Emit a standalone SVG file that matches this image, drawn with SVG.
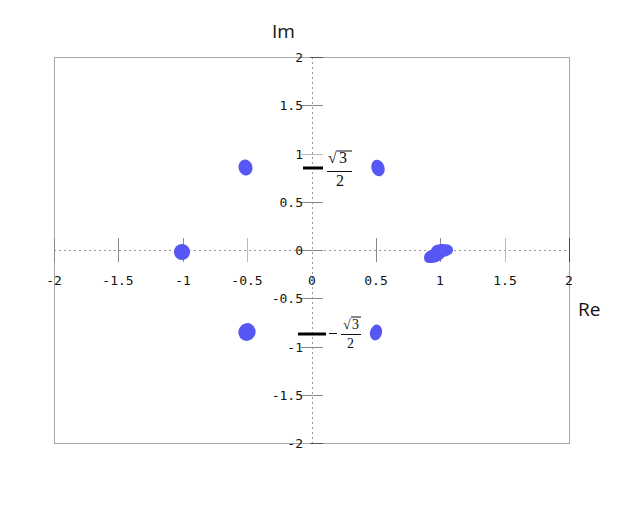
<svg xmlns="http://www.w3.org/2000/svg" width="644" height="526" viewBox="0 0 644 526">
<style>
.frame{fill:none;stroke:#a8a8a8;stroke-width:1}
.axis{stroke:#999;stroke-width:1;stroke-dasharray:2,3}
.tick{stroke:#888;stroke-width:1}
.tl{font-family:"DejaVu Sans Mono",monospace;font-size:13px;fill:#111}
.al{font-family:"Open Sans","DejaVu Sans",sans-serif;font-size:19px;fill:#111}
.fr{font-family:"Liberation Serif",serif;fill:#111}
.dot{fill:#5757f5}
.mark{stroke:#000;stroke-width:3}
</style>
<rect width="644" height="526" fill="#fff"/>
<g id="frame">
<rect class="frame" x="54.5" y="57.5" width="515" height="386"/>
</g>
<g id="axes">
<line class="axis" x1="54" y1="250.5" x2="569" y2="250.5"/>
<line class="axis" x1="312.5" y1="57" x2="312.5" y2="443"/>
</g>
<g id="xticks">
<line class="tick" x1="54.5" y1="238" x2="54.5" y2="262" stroke="#555"/>
<line class="tick" x1="118.5" y1="238" x2="118.5" y2="262"/>
<line class="tick" x1="183.5" y1="238" x2="183.5" y2="262"/>
<line class="tick" x1="247.5" y1="238" x2="247.5" y2="262" style="stroke:#bbb"/>
<line class="tick" x1="376.5" y1="238" x2="376.5" y2="262"/>
<line class="tick" x1="440.5" y1="238" x2="440.5" y2="262"/>
<line class="tick" x1="505.5" y1="238" x2="505.5" y2="262" style="stroke:#bbb"/>
<line class="tick" x1="569.5" y1="238" x2="569.5" y2="262" style="stroke:#444"/>
<g class="tl" text-anchor="middle">
<text x="54" y="285">-2</text>
<text x="118" y="285">-1.5</text>
<text x="183" y="285">-1</text>
<text x="247" y="285">-0.5</text>
<text x="312" y="285">0</text>
<text x="376" y="285">0.5</text>
<text x="440" y="285">1</text>
<text x="505" y="285">1.5</text>
<text x="569" y="285">2</text>
</g>
</g>
<g id="yticks">
<line class="tick" x1="310" y1="57.5" x2="323" y2="57.5" style="stroke:#555"/>
<line class="tick" x1="301" y1="105.5" x2="323" y2="105.5"/>
<line class="tick" x1="301" y1="154.5" x2="323" y2="154.5" style="stroke:#bbb"/>
<line class="tick" x1="301" y1="202.5" x2="323" y2="202.5"/>
<line class="tick" x1="301" y1="250.5" x2="323" y2="250.5"/>
<line class="tick" x1="301" y1="298.5" x2="323" y2="298.5"/>
<line class="tick" x1="301" y1="347.5" x2="323" y2="347.5"/>
<line class="tick" x1="301" y1="395.5" x2="323" y2="395.5"/>
<line class="tick" x1="310" y1="443.5" x2="323" y2="443.5" style="stroke:#555"/>
<g class="tl" text-anchor="end">
<text x="303" y="62">2</text>
<text x="303" y="110">1.5</text>
<text x="303" y="159">1</text>
<text x="303" y="207">0.5</text>
<text x="303" y="255">0</text>
<text x="303" y="303">-0.5</text>
<text x="303" y="352">-1</text>
<text x="303" y="400">-1.5</text>
<text x="303" y="448">-2</text>
</g>
</g>
<g id="axis-labels">
<text class="al" x="272" y="38">Im</text>
<text class="al" x="578" y="316">Re</text>
</g>
<g id="mark-pos">
<line class="mark" x1="303" y1="168" x2="323" y2="168"/>
<text class="fr" x="328" y="163" font-size="16">√</text>
<line x1="337" y1="151" x2="352" y2="151" stroke="#111" stroke-width="1"/>
<text class="fr" x="339" y="163" font-size="16">3</text>
<line x1="327" y1="171.5" x2="352" y2="171.5" stroke="#111" stroke-width="1"/>
<text class="fr" x="336" y="186" font-size="16">2</text>
</g>
<g id="mark-neg">
<line class="mark" x1="298" y1="334" x2="326" y2="334"/>
<line x1="329" y1="333.5" x2="337" y2="333.5" stroke="#111" stroke-width="1"/>
<text class="fr" x="343" y="329" font-size="14">√</text>
<line x1="351" y1="317" x2="361" y2="317" stroke="#111" stroke-width="1"/>
<text class="fr" x="352" y="329" font-size="14">3</text>
<line x1="341" y1="334.5" x2="361" y2="334.5" stroke="#111" stroke-width="1"/>
<text class="fr" x="347" y="348" font-size="14">2</text>
</g>
<g id="points">
<ellipse class="dot" cx="182" cy="252" rx="8" ry="8"/>
<ellipse class="dot" cx="245.5" cy="167.5" rx="7" ry="8" transform="rotate(-15 245.5 167.5)"/>
<ellipse class="dot" cx="378" cy="168" rx="6.5" ry="8.5" transform="rotate(-20 378 168)"/>
<ellipse class="dot" cx="247" cy="332" rx="8.5" ry="9" transform="rotate(30 247 332)"/>
<ellipse class="dot" cx="376" cy="332.5" rx="6" ry="8" transform="rotate(15 376 332.5)"/>
<path class="dot" d="M424,258 C424,253 428,251 431,250 C432,246 436,244 443,244 C451,244 453,247 453,250 C453,254 448,256 444,257 C441,261 436,263 430,263 C426,263 424,261 424,258 Z"/>
</g>
</svg>
